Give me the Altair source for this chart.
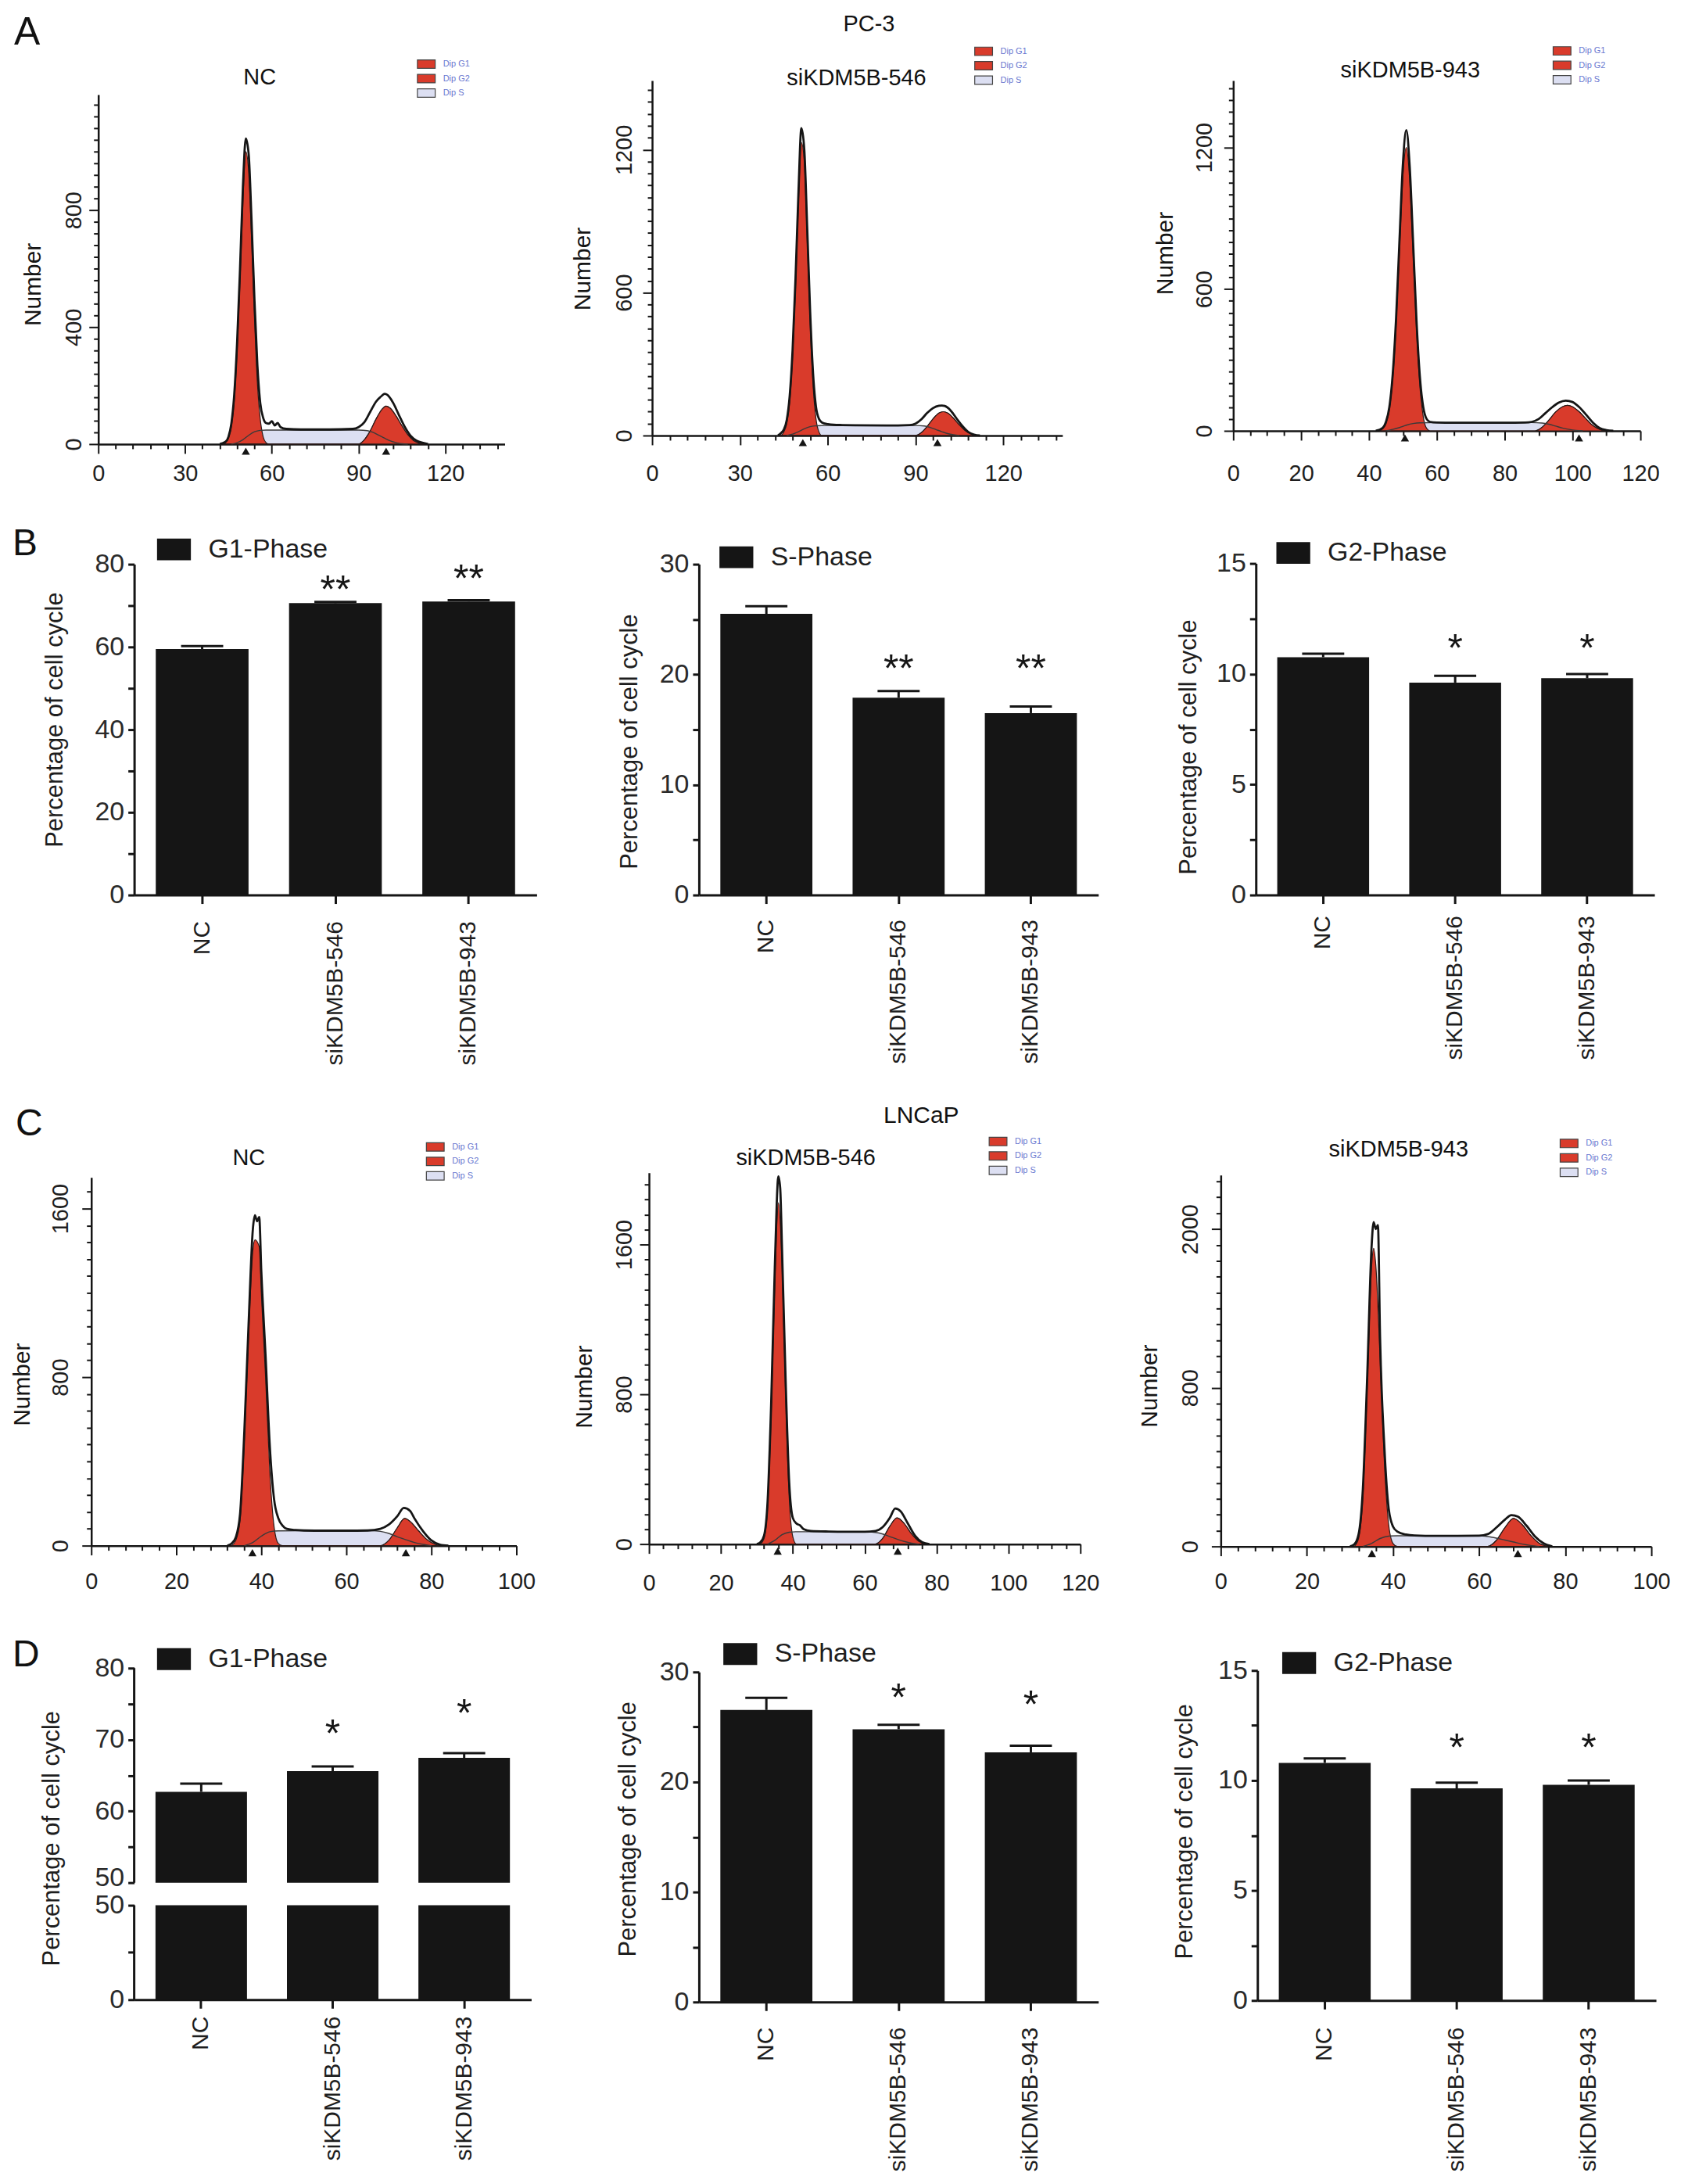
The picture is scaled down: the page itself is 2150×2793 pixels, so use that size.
import json
import altair as alt
import pandas as pd

FONT = "Liberation Sans"
RED = "#d93b2b"
HATCH = "#dcdff2"
INK = "#151515"
TXT = "#1e1e1e"
LEG_BLUE = "#6a78d0"

GROUPS = ["NC", "siKDM5B-546", "siKDM5B-943"]
STAR_GROUPS = ["siKDM5B-546", "siKDM5B-943"]
DIP_PHASES = ["Dip G1", "Dip G2", "Dip S"]

# ---------------- DNA histograms, PC-3 ----------------
A1_OBS_X = [42, 44, 45, 46, 47, 48, 49, 50, 51, 52, 53, 54, 55, 56, 57, 58, 59, 60, 61, 62, 63, 65, 70, 80, 88, 90, 92, 94, 96, 98, 99, 100, 102, 104, 106, 108, 110, 112, 114]
A1_OBS_Y = [0, 8, 25, 70, 170, 350, 600, 880, 1045, 990, 760, 490, 270, 140, 90, 72, 70, 78, 64, 72, 58, 52, 50, 50, 52, 58, 75, 110, 145, 165, 172, 168, 140, 98, 58, 28, 12, 5, 0]
A1_G1_X = [43, 44, 45, 46, 47, 48, 49, 50, 51, 52, 53, 54, 55, 56, 57, 58, 59]
A1_G1_Y = [0, 5, 20, 60, 150, 320, 560, 830, 1000, 930, 700, 430, 210, 85, 25, 5, 0]
A1_S_X = [46, 48, 50, 52, 54, 56, 58, 90, 93, 95, 97, 99, 101, 103, 105, 107]
A1_S_Y = [0, 5, 15, 30, 42, 47, 48, 48, 46, 40, 30, 20, 11, 5, 1, 0]
A1_G2_X = [90, 92, 94, 96, 98, 99.5, 101, 103, 105, 107, 109, 111, 113]
A1_G2_Y = [0, 15, 45, 85, 118, 130, 122, 95, 62, 32, 12, 3, 0]
A1_MEANS = [51, 99.5]

A2_OBS_X = [43, 44, 45, 46, 47, 48, 49, 50, 51, 52, 53, 54, 55, 56, 57, 58, 60, 62, 65, 70, 80, 88, 90, 92, 94, 96, 98, 99, 100, 102, 104, 106, 108, 110, 112]
A2_OBS_Y = [0, 10, 25, 65, 165, 360, 660, 1020, 1290, 1200, 870, 520, 260, 120, 70, 55, 48, 45, 44, 43, 42, 44, 50, 68, 95, 115, 125, 126, 124, 105, 72, 40, 15, 4, 0]
A2_G1_X = [44, 45, 46, 47, 48, 49, 50, 51, 52, 53, 54, 55, 56, 57, 58]
A2_G1_Y = [0, 15, 50, 140, 330, 620, 980, 1230, 1150, 820, 470, 210, 70, 15, 0]
A2_S_X = [46, 48, 50, 52, 54, 56, 60, 90, 93, 95, 97, 99, 101, 103, 105]
A2_S_Y = [0, 6, 16, 28, 37, 41, 42, 42, 40, 34, 25, 16, 8, 3, 0]
A2_G2_X = [90, 92, 94, 96, 98, 99.5, 101, 103, 105, 107, 109, 111]
A2_G2_Y = [0, 12, 38, 70, 94, 100, 94, 72, 44, 20, 6, 0]
A2_MEANS = [51.5, 97.5]

A3_OBS_X = [42, 44, 45, 46, 47, 48, 49, 50, 51, 52, 53, 54, 55, 56, 57, 58, 60, 65, 70, 80, 86, 88, 90, 92, 94, 96, 98, 100, 102, 104, 106, 108, 110, 112]
A3_OBS_Y = [0, 12, 38, 100, 240, 480, 810, 1130, 1273, 1120, 800, 470, 230, 100, 50, 38, 35, 34, 34, 34, 35, 38, 50, 75, 100, 120, 128, 122, 100, 68, 35, 12, 3, 0]
A3_G1_X = [43, 44, 45, 46, 47, 48, 49, 50, 51, 52, 53, 54, 55, 56, 57, 58]
A3_G1_Y = [0, 8, 30, 90, 220, 450, 770, 1080, 1200, 1060, 750, 430, 190, 60, 10, 0]
A3_S_X = [45, 47, 49, 51, 53, 55, 60, 88, 91, 93, 95, 97, 99, 101, 103]
A3_S_Y = [0, 6, 14, 24, 31, 34, 35, 35, 33, 28, 20, 12, 6, 2, 0]
A3_G2_X = [89, 91, 93, 95, 97, 98.5, 100, 102, 104, 106, 108, 110]
A3_G2_Y = [0, 15, 45, 80, 102, 108, 102, 80, 50, 22, 6, 0]
A3_MEANS = [50.6, 101.9]

# ---------------- DNA histograms, LNCaP ----------------
C1_OBS_X = [32, 33, 34, 35, 36, 37, 38, 38.5, 39, 39.5, 40, 41, 42, 43, 44, 45, 46, 48, 50, 55, 60, 65, 68, 70, 72, 73.5, 75, 76, 78, 80, 82, 84]
C1_OBS_Y = [0, 10, 40, 150, 540, 1050, 1500, 1568, 1540, 1560, 1300, 900, 470, 220, 130, 95, 80, 74, 72, 71, 71, 72, 80, 100, 140, 179, 165, 130, 70, 25, 5, 0]
C1_G1_X = [33, 34, 35, 36, 37, 38, 38.5, 39.5, 40, 41, 42, 43, 44, 45]
C1_G1_Y = [0, 25, 120, 500, 1000, 1400, 1452, 1420, 1200, 800, 350, 90, 10, 0]
C1_S_X = [36, 38, 40, 42, 44, 50, 66, 68, 70, 72, 74, 76, 78, 80]
C1_S_Y = [0, 15, 45, 66, 70, 71, 71, 68, 58, 42, 28, 15, 6, 0]
C1_G2_X = [68, 70, 72, 73.7, 75, 77, 79, 81, 82]
C1_G2_Y = [0, 25, 85, 129, 115, 70, 28, 5, 0]
C1_MEANS = [37.9, 74]

C2_OBS_X = [30, 31, 32, 33, 34, 35, 36, 36.5, 37, 38, 39, 40, 41, 42, 43, 45, 50, 55, 60, 63, 65, 67, 68.5, 70, 72, 74, 76, 78]
C2_OBS_Y = [0, 10, 45, 230, 760, 1480, 1964, 1900, 1580, 880, 330, 140, 110, 100, 80, 70, 67, 66, 66, 70, 90, 140, 190, 175, 110, 45, 10, 0]
C2_G1_X = [31, 32, 33, 34, 35, 36, 37, 38, 39, 40, 41]
C2_G1_Y = [0, 30, 200, 700, 1400, 1823, 1500, 800, 250, 40, 0]
C2_S_X = [33, 35, 37, 39, 41, 60, 63, 65, 67, 69, 71, 73, 75]
C2_S_Y = [0, 20, 50, 63, 66, 66, 62, 54, 40, 26, 14, 5, 0]
C2_G2_X = [63, 65, 67, 69, 71, 73, 75, 77]
C2_G2_Y = [0, 30, 95, 140, 110, 55, 15, 0]
C2_MEANS = [35.8, 69.2]

C3_OBS_X = [30, 31, 32, 33, 34, 35, 35.5, 36, 36.5, 37, 38, 39, 40, 41, 43, 45, 50, 55, 60, 62, 64, 66, 67.5, 69, 71, 73, 75, 77]
C3_OBS_Y = [0, 10, 60, 290, 850, 1500, 1635, 1600, 1620, 1050, 500, 190, 100, 75, 60, 55, 53, 53, 54, 62, 95, 135, 158, 150, 105, 50, 15, 0]
C3_G1_X = [31, 32, 33, 34, 35, 35.5, 36, 37, 38, 39, 40, 41]
C3_G1_Y = [0, 40, 250, 800, 1400, 1503, 1420, 950, 420, 110, 15, 0]
C3_S_X = [33, 35, 37, 39, 41, 60, 62, 64, 66, 68, 70, 72, 74]
C3_S_Y = [0, 15, 40, 52, 54, 54, 50, 42, 32, 22, 12, 5, 0]
C3_G2_X = [62, 64, 66, 68, 70, 72, 74, 76]
C3_G2_Y = [0, 30, 95, 141, 110, 55, 15, 0]
C3_MEANS = [35.1, 69]

# ---------------- cell-cycle percentages ----------------
PC3_G1_MEAN = [59.5, 70.6, 71.0]
PC3_G1_ERR = [60.2, 70.9, 71.3]
PC3_G1_STARS = ["**", "**"]
PC3_G1_STAR_LEVEL = [76.2, 78.8]

PC3_S_MEAN = [25.5, 17.9, 16.5]
PC3_S_ERR = [26.2, 18.5, 17.1]
PC3_S_STARS = ["**", "**"]
PC3_S_STAR_LEVEL = [21.4, 21.4]

PC3_G2_MEAN = [10.76, 9.61, 9.81]
PC3_G2_ERR = [10.92, 9.92, 10.0]
PC3_G2_STARS = ["*", "*"]
PC3_G2_STAR_LEVEL = [11.58, 11.58]

LNCAP_G1_MEAN = [62.7, 65.6, 67.45]
LNCAP_G1_ERR = [63.85, 66.25, 68.1]
LNCAP_G1_STARS = ["*", "*"]
LNCAP_G1_STAR_LEVEL = [72.1, 75.0]

LNCAP_S_MEAN = [26.55, 24.8, 22.7]
LNCAP_S_ERR = [27.65, 25.2, 23.3]
LNCAP_S_STARS = ["*", "*"]
LNCAP_S_STAR_LEVEL = [28.5, 27.9]

LNCAP_G2_MEAN = [10.8, 9.64, 9.8]
LNCAP_G2_ERR = [11.0, 9.9, 10.0]
LNCAP_G2_STARS = ["*", "*"]
LNCAP_G2_STAR_LEVEL = [11.9, 11.9]

BREAK_LOW = 49.999  # top of the lower segment of the broken G1 axis (LNCaP)


def rng(a, b, s):
    n = int(round((b - a) / s))
    return [round(a + i * s, 4) for i in range(n + 1)]


ONE = pd.DataFrame({"t": [""]})


def spacer(w, h):
    return alt.Chart(ONE).mark_text(fontSize=1, align="left", baseline="top").encode(
        x=alt.value(0), y=alt.value(0), text="t:N").properties(width=w, height=h)


def major_size(maj, big, small):
    return {"condition": {"test": "indexof(%s, datum.value) >= 0" % json.dumps(maj), "value": big}, "value": small}


def major_labels(maj):
    return "indexof(%s, datum.value) >= 0 ? '' + datum.value : ''" % json.dumps(maj)


# ---------------- histogram panel ----------------
HIST_CFG = {
    "A1": dict(dx=9, dy=18, w=521, h=448, xdom=[0, 140.5], ydom=[0, 1195], xmaj=[0, 30, 60, 90, 120], xstep=6,
               xmax=138, ymaj=[0, 400, 800], ystep=40, ymax=1160,
               lx=413.5, ly=-46, xlp=12, ylp=4, tx=-83, ty=243),
    "A2": dict(dx=4, dy=0, w=526, h=455, xdom=[0, 140.2], ydom=[0, 1490], xmaj=[0, 30, 60, 90, 120], xstep=6,
               xmax=138, ymaj=[0, 600, 1200], ystep=50, ymax=1450,
               lx=418, ly=-44.5, xlp=23, ylp=9, tx=-89, ty=241),
    "A3": dict(dx=16, dy=0, w=522, h=449, xdom=[0, 120], ydom=[0, 1483], xmaj=[0, 20, 40, 60, 80, 100, 120],
               xstep=5, xmax=120, ymaj=[0, 600, 1200], ystep=50, ymax=1450,
               lx=414.5, ly=-45, xlp=29, ylp=10, tx=-87, ty=221),
    "C1": dict(dx=0, dy=6, w=545, h=472, xdom=[0, 100], ydom=[0, 1748], xmaj=[0, 20, 40, 60, 80, 100], xstep=4,
               xmax=100, ymaj=[0, 800, 1600], ystep=80, ymax=1680,
               lx=434, ly=-46, xlp=20, ylp=12, tx=-88, ty=265),
    "C2": dict(dx=0, dy=0, w=553, h=476, xdom=[0, 120], ydom=[0, 1983], xmaj=[0, 20, 40, 60, 80, 100, 120],
               xstep=4, xmax=120, ymaj=[0, 800, 1600], ystep=80, ymax=1920,
               lx=440.5, ly=-47, xlp=24, ylp=5, tx=-82.5, ty=274),
    "C3": dict(dx=0, dy=3, w=552, h=476, xdom=[0, 100], ydom=[0, 1872], xmaj=[0, 20, 40, 60, 80, 100], xstep=4,
               xmax=100, ymaj=[0, 800, 1600], ystep=80, ymax=1840,
               lx=439.5, ly=-47.5, xlp=19, ylp=12, tx=-91, ty=270,
               yexpr="datum.value == 1600 ? '2000' : (indexof([0, 800], datum.value) >= 0 ? '' + datum.value : '')"),
}


def hist_panel(obs_x, obs_y, g1_x, g1_y, g2_x, g2_y, s_x, s_y, means, c):
    dx, dy, W, H = c["dx"], c["dy"], c["w"], c["h"]
    xsc = alt.Scale(domain=c["xdom"], range=[dx, dx + W], nice=False, zero=False)
    ysc = alt.Scale(domain=c["ydom"], range=[dy + H, dy], nice=False, zero=False)
    xaxis = alt.Axis(values=rng(0, c["xmax"], c["xstep"]), labelExpr=major_labels(c["xmaj"]),
                     tickSize=major_size(c["xmaj"], 12, 6), tickWidth=2, tickColor=INK,
                     domainColor=INK, domainWidth=2.5, labelFontSize=29, labelColor=TXT,
                     labelPadding=c["xlp"], labelFlush=False, labelOverlap=False, grid=False, title=None)
    yaxis = alt.Axis(values=rng(0, c["ymax"], c["ystep"]), labelExpr=c.get("yexpr", major_labels(c["ymaj"])),
                     tickSize=major_size(c["ymaj"], 12, 6), tickWidth=2, tickColor=INK, offset=-dx,
                     domainColor=INK, domainWidth=2.5, labelFontSize=29, labelColor=TXT,
                     labelAngle=270, labelAlign="center", labelBaseline="bottom",
                     labelPadding=c["ylp"], labelFlush=False, labelOverlap=False, grid=False,
                     title="Number", titleFontSize=30, titleFontWeight="normal", titleColor=INK,
                     titleAngle=270, titleX=c["tx"], titleY=c["ty"] + dy, titleAlign="center",
                     titleBaseline="middle")
    X = alt.X("x:Q", scale=xsc, axis=xaxis)
    Y = alt.Y("y:Q", scale=ysc, axis=yaxis)
    color = alt.Color("phase:N", scale=alt.Scale(domain=DIP_PHASES, range=[RED, RED, HATCH]),
                      legend=alt.Legend(orient="none", legendX=c["lx"] + dx, legendY=c["ly"] + dy, title=None,
                                        symbolType="M-1.9,-0.9L1.9,-0.9L1.9,0.9L-1.9,0.9Z",
                                        symbolSize=144, symbolStrokeColor="#444", symbolStrokeWidth=1.2,
                                        symbolOpacity=1, labelFontSize=11, labelColor=LEG_BLUE,
                                        labelOffset=14.5, rowPadding=2.5, padding=0))
    s_df = pd.DataFrame({"x": s_x, "y": s_y, "phase": ["Dip S"] * len(s_x)})
    g_df = pd.DataFrame({"x": g1_x + g2_x, "y": g1_y + g2_y,
                         "phase": ["Dip G1"] * len(g1_x) + ["Dip G2"] * len(g2_x)})
    o_df = pd.DataFrame({"x": obs_x, "y": obs_y})
    t_df = pd.DataFrame({"x": means, "y": [0] * len(means)})
    s_area = alt.Chart(s_df).mark_area(interpolate="monotone", opacity=1).encode(x=X, y=Y, color=color)
    g_area = alt.Chart(g_df).mark_area(interpolate="monotone", opacity=1, stroke="#2a1a18",
                                       strokeWidth=1.2).encode(x=X, y=Y, color=color)
    s_line = alt.Chart(s_df).mark_line(interpolate="monotone", color="#3a3a3a", strokeWidth=1.4).encode(x=X, y=Y)
    o_line = alt.Chart(o_df).mark_line(interpolate="monotone", color=INK, strokeWidth=2.8,
                                       strokeJoin="round").encode(x=X, y=Y)
    tri = alt.Chart(t_df).mark_point(shape="triangle-up", filled=True, size=110, color=INK, opacity=1,
                                     yOffset=9).encode(x=X, y=Y)
    return alt.layer(s_area, g_area, s_line, o_line, tri).properties(width=dx + W, height=dy + H)


# ---------------- bar panel ----------------
BAR_CFG = {
    "B1": dict(dx=55, dy=1, w=516, h=424, ydom=[0, 80], yt=rng(0, 80, 10), ymaj=[0, 20, 40, 60, 80],
               label="G1-Phase", lx=34, ly=-36, tx=-101, ty=199, xlp=22),
    "B2": dict(dx=64, dy=1, w=512, h=424, ydom=[0, 30], yt=rng(0, 30, 5), ymaj=[0, 10, 20, 30],
               label="S-Phase", lx=31, ly=-26, tx=-89, ty=227, xlp=20),
    "B3": dict(dx=45, dy=0, w=511, h=425, ydom=[0, 15], yt=rng(0, 15, 2.5), ymaj=[0, 5, 10, 15],
               label="G2-Phase", lx=31, ly=-30.5, tx=-86, ty=235, xlp=15),
    "D1": dict(dx=55, dy=0, w=509, h=425, upper=275, gap=29, ydom=[0, BREAK_LOW, 50, 80],
               yt=[0, 25, BREAK_LOW, 50, 55, 60, 65, 70, 75, 80], label="G1-Phase",
               lx=34, ly=-28.5, tx=-105, ty=218, xlp=10),
    "D2": dict(dx=64, dy=5, w=512, h=423, ydom=[0, 30], yt=rng(0, 30, 5), ymaj=[0, 10, 20, 30],
               label="S-Phase", lx=36, ly=-40, tx=-91, ty=201, xlp=21),
    "D3": dict(dx=47, dy=3, w=511, h=423, ydom=[0, 15], yt=rng(0, 15, 2.5), ymaj=[0, 5, 10, 15],
               label="G2-Phase", lx=36.5, ly=-26.5, tx=-93, ty=206, xlp=23),
}


def bar_panel(mean, err, stars, levels, c, broken=False):
    dx, dy, W, H = c["dx"], c["dy"], c["w"], c["h"]
    df = pd.DataFrame({"group": GROUPS, "mean": mean, "err": err, "phase": [c["label"]] * 3})
    xaxis = alt.Axis(labelAngle=270, labelAlign="right", labelBaseline="middle", labelFontSize=30,
                     labelColor=TXT, labelPadding=c["xlp"], labelLimit=600, tickSize=11, tickWidth=3,
                     tickColor=INK, domainColor=INK, domainWidth=3, title=None, grid=False,
                     labelOverlap=False)
    X = alt.X("group:N", sort=GROUPS,
              scale=alt.Scale(domain=GROUPS, range=[dx, dx + W], paddingInner=0.304, paddingOuter=0.162),
              axis=xaxis)
    extra = {}
    if broken:
        up, gap = c["upper"], c["gap"]
        ysc = alt.Scale(domain=c["ydom"], range=[dy + H, dy + up + gap, dy + up, dy], nice=False, zero=False)
        lab = ("datum.value == %s ? '50' : (indexof([0, 50, 60, 70, 80], datum.value) >= 0 ? '' + datum.value : '')"
               % BREAK_LOW)
        extra["labelOffset"] = {"condition": {"test": "datum.value == 50", "value": -6}, "value": 0}
    else:
        ysc = alt.Scale(domain=c["ydom"], range=[dy + H, dy], nice=False, zero=False)
        lab = major_labels(c["ymaj"])
    yaxis = alt.Axis(values=c["yt"], labelExpr=lab, tickSize=8, tickWidth=3, tickColor=INK,
                     domain=not broken, domainColor=INK, domainWidth=3, offset=-dx,
                     labelFontSize=34, labelColor="#2a2a2a", labelPadding=5, labelFlush=False,
                     labelOverlap=False, grid=False,
                     title="Percentage of cell cycle", titleFontSize=31, titleFontWeight="normal",
                     titleColor=TXT, titleAngle=270, titleX=c["tx"], titleY=c["ty"] + dy,
                     titleAlign="center", titleBaseline="middle", titleLimit=800, **extra)
    color = alt.Color("phase:N", scale=alt.Scale(domain=[c["label"]], range=[INK]),
                      legend=alt.Legend(orient="none", legendX=c["lx"] + dx, legendY=c["ly"] + dy, title=None,
                                        symbolType="M-1.55,-1L1.55,-1L1.55,1L-1.55,1Z", symbolSize=784,
                                        symbolStrokeWidth=0, symbolOpacity=1, labelFontSize=34,
                                        labelColor=TXT, labelOffset=27, padding=0))
    layers = []
    if broken:
        layers.append(alt.Chart(df).transform_calculate(low="min(datum.mean, %s)" % BREAK_LOW).mark_bar(
            opacity=1).encode(x=X, y=alt.Y("low:Q", scale=ysc, axis=yaxis), y2=alt.datum(0), color=color))
        layers.append(alt.Chart(df).mark_bar(opacity=1).encode(
            x=X, y=alt.Y("mean:Q", scale=ysc), y2=alt.datum(50), color=color))
        seg = pd.DataFrame({"lo": [0, 50], "hi": [BREAK_LOW, 80]})
        layers.append(alt.Chart(seg).mark_rule(color=INK, strokeWidth=3).encode(
            x=alt.value(dx), y=alt.Y("lo:Q", scale=ysc), y2="hi:Q"))
    else:
        layers.append(alt.Chart(df).mark_bar(opacity=1).encode(
            x=X, y=alt.Y("mean:Q", scale=ysc, axis=yaxis), color=color))
    layers.append(alt.Chart(df).mark_rule(color=INK, strokeWidth=3).encode(
        x=X, y=alt.Y("mean:Q", scale=ysc), y2="err:Q"))
    layers.append(alt.Chart(df).mark_tick(color=INK, thickness=3, size=54, opacity=1).encode(
        x=X, y=alt.Y("err:Q", scale=ysc)))
    sdf = pd.DataFrame({"group": STAR_GROUPS, "level": levels, "star": stars})
    layers.append(alt.Chart(sdf).mark_text(fontSize=50, dy=29, align="center", baseline="alphabetic",
                                           color=INK).encode(
        x=X, y=alt.Y("level:Q", scale=ysc), text="star:N"))
    return alt.layer(*layers).properties(width=dx + W, height=dy + H)


# ---------------- text cells: panel letters, cell line names, panel titles ----------------
def text_cell(w, h, items, align):
    tdf = pd.DataFrame(items, columns=["text", "x", "y", "fs"])
    return alt.Chart(tdf).mark_text(align=align, baseline="alphabetic", color="#111").encode(
        x=alt.X("x:Q", scale=None, axis=None), y=alt.Y("y:Q", scale=None, axis=None),
        text="text:N", size=alt.Size("fs:Q", scale=None, legend=None)).properties(width=w, height=h)


A1 = hist_panel(A1_OBS_X, A1_OBS_Y, A1_G1_X, A1_G1_Y, A1_G2_X, A1_G2_Y, A1_S_X, A1_S_Y, A1_MEANS, HIST_CFG["A1"])
A2 = hist_panel(A2_OBS_X, A2_OBS_Y, A2_G1_X, A2_G1_Y, A2_G2_X, A2_G2_Y, A2_S_X, A2_S_Y, A2_MEANS, HIST_CFG["A2"])
A3 = hist_panel(A3_OBS_X, A3_OBS_Y, A3_G1_X, A3_G1_Y, A3_G2_X, A3_G2_Y, A3_S_X, A3_S_Y, A3_MEANS, HIST_CFG["A3"])
C1 = hist_panel(C1_OBS_X, C1_OBS_Y, C1_G1_X, C1_G1_Y, C1_G2_X, C1_G2_Y, C1_S_X, C1_S_Y, C1_MEANS, HIST_CFG["C1"])
C2 = hist_panel(C2_OBS_X, C2_OBS_Y, C2_G1_X, C2_G1_Y, C2_G2_X, C2_G2_Y, C2_S_X, C2_S_Y, C2_MEANS, HIST_CFG["C2"])
C3 = hist_panel(C3_OBS_X, C3_OBS_Y, C3_G1_X, C3_G1_Y, C3_G2_X, C3_G2_Y, C3_S_X, C3_S_Y, C3_MEANS, HIST_CFG["C3"])

B1 = bar_panel(PC3_G1_MEAN, PC3_G1_ERR, PC3_G1_STARS, PC3_G1_STAR_LEVEL, BAR_CFG["B1"])
B2 = bar_panel(PC3_S_MEAN, PC3_S_ERR, PC3_S_STARS, PC3_S_STAR_LEVEL, BAR_CFG["B2"])
B3 = bar_panel(PC3_G2_MEAN, PC3_G2_ERR, PC3_G2_STARS, PC3_G2_STAR_LEVEL, BAR_CFG["B3"])
D1 = bar_panel(LNCAP_G1_MEAN, LNCAP_G1_ERR, LNCAP_G1_STARS, LNCAP_G1_STAR_LEVEL, BAR_CFG["D1"], broken=True)
D2 = bar_panel(LNCAP_S_MEAN, LNCAP_S_ERR, LNCAP_S_STARS, LNCAP_S_STAR_LEVEL, BAR_CFG["D2"])
D3 = bar_panel(LNCAP_G2_MEAN, LNCAP_G2_ERR, LNCAP_G2_STARS, LNCAP_G2_STAR_LEVEL, BAR_CFG["D3"])

# ---------------- grid: 6 columns (gutter, panel, gutter, panel, gutter, panel) ----------------
COLW = [102, 571, 144, 576, 157, 558]


def strip_row(h, letter, t1=None, t3=None, t5=None):
    def cell(col, items):
        return text_cell(COLW[col], h, items, "center") if items else spacer(1, 1)
    return [text_cell(COLW[0], h, [letter], "left"), cell(1, t1), spacer(COLW[2], 1),
            cell(3, t3), spacer(COLW[4], 1), cell(5, t5)]


def panel_row(p1, p2, p3):
    return [spacer(1, 1), p1, spacer(1, 1), p2, spacer(1, 1), p3]


cells = (strip_row(84, ("A", 3, 38, 50),
                   [("NC", 216, 89, 29)],
                   [("PC-3", 282, 21, 29), ("siKDM5B-546", 266, 90, 29)],
                   [("siKDM5B-943", 243, 80, 29)])
         + panel_row(A1, A2, A3)
         + strip_row(153, ("B", 1, 142, 48))
         + panel_row(B1, B2, B3)
         + strip_row(356, ("C", 5, 308, 48),
                     [("NC", 202, 346, 29)],
                     [("LNCaP", 349, 292, 30), ("siKDM5B-546", 201, 346, 29)],
                     [("siKDM5B-943", 228, 335, 29)])
         + panel_row(C1, C2, C3)
         + strip_row(156, ("D", 1, 154, 48))
         + panel_row(D1, D2, D3))

chart = alt.concat(*cells, columns=6, spacing=0, bounds="flush", align="each").resolve_scale(
    color="independent"
).properties(padding={"left": 5, "top": 5, "right": 5, "bottom": 0}).configure(
    font=FONT, background="white").configure_view(stroke="transparent")

chart.save("out.html", embed_options={"renderer": "svg", "actions": False})
